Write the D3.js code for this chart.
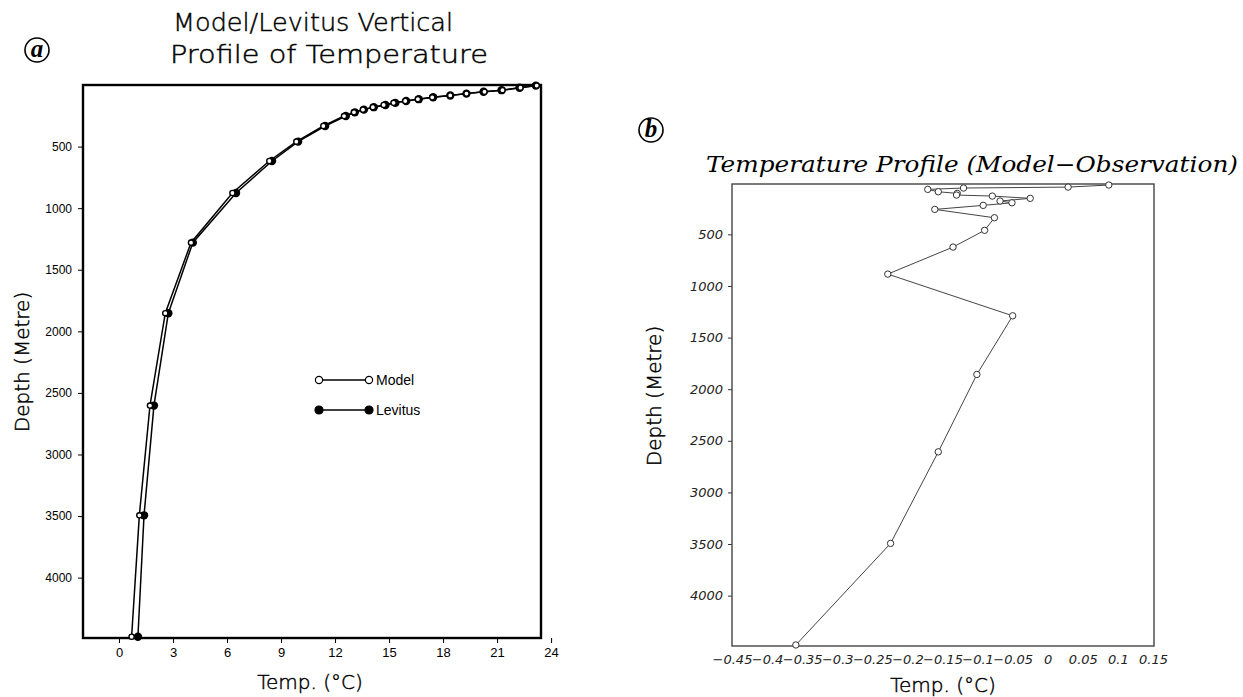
<!DOCTYPE html>
<html>
<head>
<meta charset="utf-8">
<script src="https://cdn.jsdelivr.net/npm/d3@7"></script>
<style>
  body { margin: 0; background: #ffffff; }
  svg { display: block; }
  .thin { font-family: 'DejaVu Sans', sans-serif; font-weight: 200; fill: #000; stroke: #000; stroke-width: 0.45px; }
</style>
</head>
<body>
<svg id="chart" width="1243" height="697"></svg>
<script>
// panel a : model and Levitus profiles (depth in m, temp in deg C)
const depthA = [5, 22, 42, 55, 70, 85, 100, 115, 130, 145, 162, 180, 200, 222, 252, 333, 460, 617, 877, 1280, 1853, 2603, 3494, 4480];
const modelTemp = [23.2, 22.3, 21.3, 20.3, 19.3, 18.4, 17.4, 16.6, 15.9, 15.25, 14.7, 14.1, 13.55, 13.05, 12.5, 11.35, 9.85, 8.35, 6.3, 4.0, 2.57, 1.72, 1.13, 0.7];
const levitusTemp = [23.15, 22.25, 21.25, 20.25, 19.3, 18.4, 17.45, 16.65, 15.95, 15.35, 14.8, 14.15, 13.6, 13.1, 12.6, 11.45, 9.95, 8.5, 6.5, 4.1, 2.74, 1.94, 1.39, 1.05];
const tempTicksA = [0, 3, 6, 9, 12, 15, 18, 21, 24];

// panel b : model minus observation
const depthB = [22, 42, 51, 64, 87, 103, 119, 129, 151, 177, 194, 219, 258, 339, 461, 623, 885, 1289, 1857, 2607, 3494, 4478];
const diffB = [0.087, 0.029, -0.12, -0.171, -0.156, -0.129, -0.13, -0.079, -0.025, -0.068, -0.051, -0.092, -0.161, -0.076, -0.09, -0.135, -0.228, -0.05, -0.101, -0.156, -0.224, -0.359];
const tempTicksB = [-0.45, -0.4, -0.35, -0.3, -0.25, -0.2, -0.15, -0.1, -0.05, 0, 0.05, 0.1, 0.15];

const depthTicks = [500, 1000, 1500, 2000, 2500, 3000, 3500, 4000];

const svg = d3.select("#chart");

// circled panel letter
function panelLetter(cx, cy, letter) {
  svg.append("circle")
    .attr("cx", cx).attr("cy", cy).attr("r", 12)
    .attr("fill", "none").attr("stroke", "#000").attr("stroke-width", 1.6);
  svg.append("text")
    .attr("x", cx).attr("y", cy + 7)
    .attr("text-anchor", "middle")
    .style("font-family", "'Liberation Serif', 'DejaVu Serif', serif")
    .style("font-style", "italic").style("font-weight", "bold")
    .style("font-size", "25px")
    .text(letter);
}

// ---------------- panel a ----------------
const xA = d3.scaleLinear().domain([-2, 23.44]).range([83, 541]);
const yA = d3.scaleLinear().domain([0, 4490]).range([85, 638]);

const gA = svg.append("g").attr("class", "panel-a");

gA.append("text").attr("class", "thin").attr("x", 173).attr("y", 31)
  .attr("textLength", 280).attr("lengthAdjust", "spacingAndGlyphs")
  .style("font-size", "25px")
  .text("Model/Levitus Vertical");
gA.append("text").attr("class", "thin").attr("x", 170).attr("y", 63)
  .attr("textLength", 318).attr("lengthAdjust", "spacingAndGlyphs")
  .style("font-size", "25px")
  .text("Profile of Temperature");
panelLetter(37, 50, "a");

let axA = gA.append("g")
  .attr("transform", "translate(0,638)")
  .call(d3.axisBottom(xA).tickValues(tempTicksA).tickSize(5).tickPadding(5).tickFormat(d3.format("d")));
axA.select(".domain").remove();
axA.selectAll("text").style("font-family", "'Liberation Sans', Arial, sans-serif").style("font-size", "13px");

let ayA = gA.append("g")
  .attr("transform", "translate(83,0)")
  .call(d3.axisLeft(yA).tickValues(depthTicks).tickSize(5).tickPadding(6).tickFormat(d3.format("d")));
ayA.select(".domain").remove();
ayA.selectAll("text").style("font-family", "'Liberation Sans', Arial, sans-serif").style("font-size", "12px");

gA.append("rect")
  .attr("x", 83).attr("y", 85).attr("width", 541 - 83).attr("height", 638 - 85)
  .attr("fill", "none").attr("stroke", "#000").attr("stroke-width", 2.4);

gA.append("text").attr("class", "thin").attr("x", 310).attr("y", 689)
  .attr("text-anchor", "middle")
  .style("font-size", "20px")
  .text("Temp. (°C)");
gA.append("text").attr("class", "thin")
  .attr("transform", "translate(29,362) rotate(-90)")
  .attr("text-anchor", "middle")
  .style("font-size", "20px")
  .text("Depth (Metre)");

const lineA = (temps) => d3.line()
  .x((d, i) => xA(temps[i]))
  .y(d => yA(d))(depthA);

gA.append("path").attr("d", lineA(levitusTemp))
  .attr("fill", "none").attr("stroke", "#000").attr("stroke-width", 1.5);
gA.append("path").attr("d", lineA(modelTemp))
  .attr("fill", "none").attr("stroke", "#000").attr("stroke-width", 1.5);

gA.selectAll(".lev").data(depthA).enter().append("circle")
  .attr("class", "lev")
  .attr("cx", (d, i) => xA(levitusTemp[i])).attr("cy", d => yA(d)).attr("r", 4.2)
  .attr("fill", "#000");
gA.selectAll(".mod").data(depthA).enter().append("circle")
  .attr("class", "mod")
  .attr("cx", (d, i) => xA(modelTemp[i])).attr("cy", d => yA(d)).attr("r", 2.6)
  .attr("fill", "#fff").attr("stroke", "#000").attr("stroke-width", 1.4);

// legend
const legend = [{ name: "Model", open: true, y: 380 }, { name: "Levitus", open: false, y: 410 }];
legend.forEach(function (l) {
  gA.append("line").attr("x1", 319).attr("x2", 369).attr("y1", l.y).attr("y2", l.y)
    .attr("stroke", "#000").attr("stroke-width", 1.4);
  [319, 369].forEach(function (cx) {
    gA.append("circle").attr("cx", cx).attr("cy", l.y).attr("r", l.open ? 3.6 : 4)
      .attr("fill", l.open ? "#fff" : "#000").attr("stroke", "#000").attr("stroke-width", 1.2);
  });
  gA.append("text").attr("x", 376).attr("y", l.y + 5)
    .style("font-family", "'Liberation Sans', Arial, sans-serif").style("font-size", "14px")
    .text(l.name);
});

// ---------------- panel b ----------------
const xB = d3.scaleLinear().domain([-0.45, 0.15]).range([732, 1153]);
const yB = d3.scaleLinear().domain([12, 4488]).range([184, 646]);

const gB = svg.append("g").attr("class", "panel-b");
panelLetter(651, 130, "b");

gB.append("text").attr("x", 706).attr("y", 172)
  .attr("textLength", 532).attr("lengthAdjust", "spacingAndGlyphs")
  .style("font-family", "'DejaVu Serif', serif").style("font-style", "italic").style("font-size", "22px")
  .text("Temperature Profile (Model\u2212Observation)");

let axB = gB.append("g")
  .attr("transform", "translate(0,646)")
  .call(d3.axisBottom(xB).tickValues(tempTicksB).tickSize(0).tickPadding(9).tickFormat(d => d === 0 ? "0" : d3.format("")(d).replace("-", "\u2212")));
axB.select(".domain").remove();
axB.selectAll("text").style("font-family", "'DejaVu Sans', sans-serif").style("font-style", "italic").style("font-size", "13px").attr("fill", "#222");

let ayB = gB.append("g")
  .attr("transform", "translate(732,0)")
  .call(d3.axisLeft(yB).tickValues(depthTicks).tickSize(4).tickPadding(5).tickFormat(d3.format("d")));
ayB.select(".domain").remove();
ayB.selectAll("line").attr("stroke", "#333");
ayB.selectAll("text").style("font-family", "'DejaVu Sans', sans-serif").style("font-style", "italic").style("font-size", "13px").attr("fill", "#222");

gB.append("rect")
  .attr("x", 732).attr("y", 184).attr("width", 1154 - 732).attr("height", 646 - 184)
  .attr("fill", "none").attr("stroke", "#444").attr("stroke-width", 1.4);

gB.append("text").attr("class", "thin").attr("x", 943).attr("y", 692)
  .attr("text-anchor", "middle")
  .style("font-size", "20px")
  .text("Temp. (°C)");
gB.append("text").attr("class", "thin")
  .attr("transform", "translate(661,396) rotate(-90)")
  .attr("text-anchor", "middle")
  .style("font-size", "20px")
  .text("Depth (Metre)");

gB.append("path")
  .attr("d", d3.line().x((d, i) => xB(diffB[i])).y(d => yB(d))(depthB))
  .attr("fill", "none").attr("stroke", "#444").attr("stroke-width", 1);

gB.selectAll(".pt").data(depthB).enter().append("circle")
  .attr("class", "pt")
  .attr("cx", (d, i) => xB(diffB[i])).attr("cy", d => yB(d)).attr("r", 3.2)
  .attr("fill", "#fff").attr("stroke", "#333").attr("stroke-width", 1);
</script>
</body>
</html>
